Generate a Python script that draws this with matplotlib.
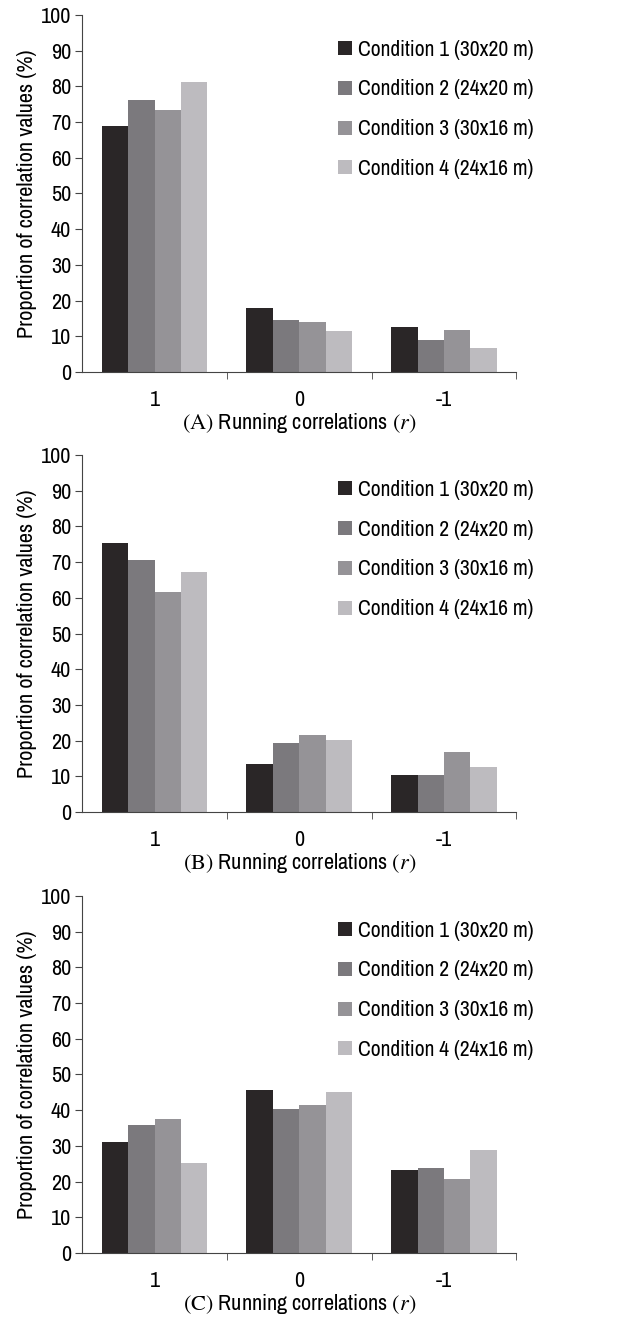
import numpy as np
import matplotlib.pyplot as plt

plt.rcParams['mathtext.fontset'] = 'stix'
plt.rcParams['font.family'] = ['Archivo Narrow', 'PT Sans Narrow', 'DejaVu Sans']

categories = ['1', '0', '-1']
conditions = ['Condition 1 (30x20 m)', 'Condition 2 (24x20 m)',
              'Condition 3 (30x16 m)', 'Condition 4 (24x16 m)']
colors = ['#2a2627', '#7b797d', '#959397', '#bdbbbf']

# values per panel, one list per condition, ordered by category (1, 0, -1)
panel_a = [[69.0, 17.8, 12.6],
           [76.1, 14.6, 8.9],
           [73.4, 14.0, 11.8],
           [81.3, 11.5, 6.6]]
panel_b = [[75.4, 13.5, 10.4],
           [70.5, 19.3, 10.4],
           [61.5, 21.5, 16.9],
           [67.3, 20.3, 12.7]]
panel_c = [[31.0, 45.6, 23.2],
           [35.9, 40.3, 23.7],
           [37.6, 41.3, 20.8],
           [25.3, 45.0, 28.8]]
panels = [('A', panel_a), ('B', panel_b), ('C', panel_c)]

fig = plt.figure(figsize=(6.32, 13.24), dpi=100)
tops = [0.9887, 0.6563, 0.3233]
h = 0.2696
x = np.arange(len(categories))
w = 0.73 / 4

for (tag, data), top in zip(panels, tops):
    ax = fig.add_axes([0.130, top - h, 0.687, h])
    for i, vals in enumerate(data):
        ax.bar(x - 0.365 + w * (i + 0.5), vals, width=w, color=colors[i],
               label=conditions[i], linewidth=0)
    ax.set_xlim(-0.5, 2.5)
    ax.set_ylim(0, 100)
    ax.set_yticks(range(0, 101, 10))
    ax.set_xticks(x)
    ax.set_xticklabels(categories)
    ax.set_xticks([0.5, 1.5, 2.5], minor=True)
    ax.tick_params(axis='x', which='major', length=0, pad=13, labelsize=16)
    ax.tick_params(axis='x', which='minor', length=5, direction='out', color='#444444')
    ax.tick_params(axis='y', length=5, pad=3, labelsize=16, color='#444444')
    for s in ['top', 'right']:
        ax.spines[s].set_visible(False)
    for s in ['left', 'bottom']:
        ax.spines[s].set_color('#444444')
        ax.spines[s].set_linewidth(0.8)
    ax.set_ylabel('Proportion of correlation values (%)', fontsize=16, labelpad=3)
    ax.set_xlabel(r'$\mathrm{(' + tag + r')}$ Running correlations $(r)$', fontsize=16, labelpad=1)
    ax.legend(loc='upper left', bbox_to_anchor=(0.57, 0.955), frameon=False,
              fontsize=15.5, handlelength=0.62, handleheight=0.62,
              handletextpad=0.3, labelspacing=0.92, borderaxespad=0)

fig.savefig('out.png', dpi=100)
